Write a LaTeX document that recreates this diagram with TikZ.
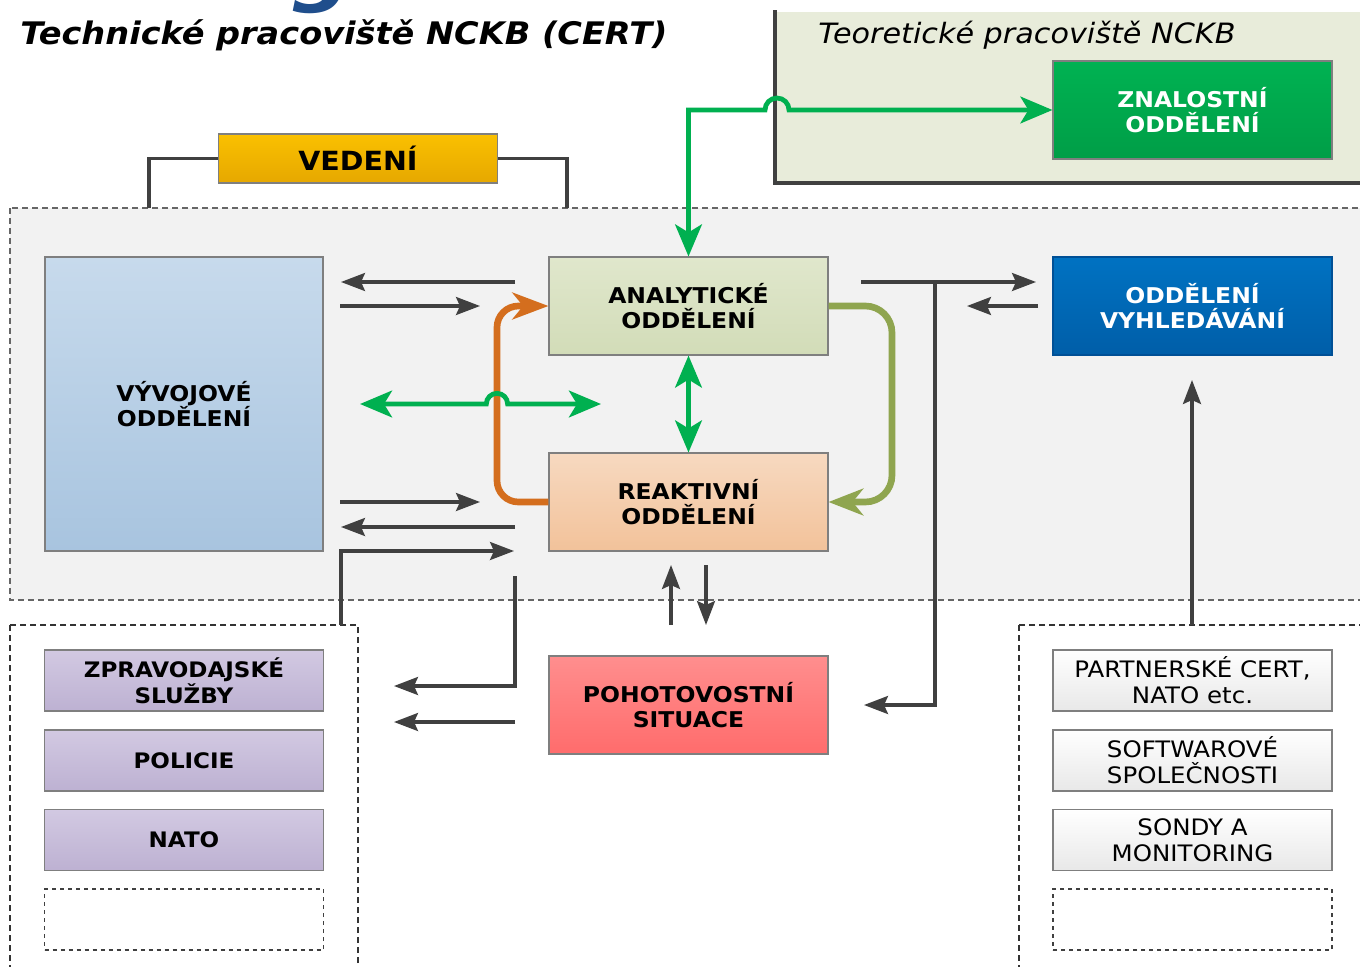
\documentclass[tikz,border=0pt]{standalone}
\usepackage{fontspec}
\setmainfont[FakeStretch=1.08]{DejaVu Sans}
\usetikzlibrary{arrows.meta,shadings}
\definecolor{arrowgrey}{HTML}{404040}
\definecolor{cgreen}{HTML}{00B050}
\definecolor{corange}{HTML}{D46E1E}
\definecolor{colive}{HTML}{8FA54F}
\definecolor{boxline}{HTML}{7F7F7F}
\definecolor{regionfill}{HTML}{F2F2F2}
\definecolor{teorfill}{HTML}{E8ECDA}
\definecolor{titleblue}{HTML}{1F4E8C}
\begin{document}
\begin{tikzpicture}[x=0.75pt,y=-0.75pt,
  box/.style={draw=boxline, line width=0.8pt, minimum width=209.25pt, minimum height=73.5pt,
    align=center, inner sep=0pt, font=\fontsize{16.3}{19}\selectfont\bfseries},
  smallbox/.style={box, minimum height=45.75pt, font=\fontsize{16}{19.5}\selectfont\bfseries},
  greybox/.style={smallbox, top color=white, bottom color=black!9, font=\fontsize{17}{19.5}\selectfont},
  purplebox/.style={smallbox, top color={rgb,255:red,210;green,201;blue,226}, bottom color={rgb,255:red,189;green,177;blue,210}},
  emptybox/.style={smallbox, draw=arrowgrey, dashed, fill=white},
  region/.style={draw=arrowgrey!80, line width=0.8pt, dash pattern=on 4.5pt off 3pt},
  garrow/.style={draw=arrowgrey, line width=2.3pt, -{Stealth[length=18pt,width=13.5pt,inset=3pt]}},
  gline/.style={draw=arrowgrey, line width=2.3pt},
  greenarrow/.style={draw=cgreen, line width=3.6pt, {Stealth[length=24pt,width=20pt,inset=6pt]}-{Stealth[length=24pt,width=20pt,inset=6pt]}},
]
\useasboundingbox (0,0) rectangle (1360,967);
\fill[white] (0,0) rectangle (1360,967);

% regions
\fill[teorfill] (775,12) rectangle (1365,183);
\draw[arrowgrey, line width=3pt] (775,10) -- (775,183) -- (1365,183);
\filldraw[region, fill=regionfill] (10,208) rectangle (1372,600);
\filldraw[region, draw=black!80, fill=white] (10,625) rectangle (358,980);
\filldraw[region, draw=black!80, fill=white] (1019,625) rectangle (1372,980);

% titles
\node[text=titleblue, anchor=base, inner sep=0pt, font=\fontsize{60}{60}\selectfont\bfseries\itshape] (gfrag) at (322,-3) {g};
\node[anchor=west, inner sep=0pt, font=\fontsize{23.3}{26}\selectfont\bfseries\itshape] (title) at (20,35) {Technické pracoviště NCKB (CERT)};
\node[anchor=west, inner sep=0pt, font=\fontsize{21}{24}\selectfont\itshape] (teortitle) at (818,35) {Teoretické pracoviště NCKB};

% main boxes
\node[box, top color={rgb,255:red,0;green,178;blue,82}, bottom color={rgb,255:red,0;green,158;blue,71}, text=white] (znal) at (1192.5,110) {ZNALOSTNÍ\\ODDĚLENÍ};
\node[box, minimum height=36.75pt, top color={rgb,255:red,250;green,192;blue,0}, bottom color={rgb,255:red,230;green,168;blue,0}, font=\fontsize{19.8}{22}\selectfont\bfseries] (vedeni) at (358,158.5) {VEDENÍ};
\node[box, minimum width=208.5pt, minimum height=220.5pt, top color={rgb,255:red,199;green,218;blue,236}, bottom color={rgb,255:red,168;green,196;blue,223}] (vyvoj) at (184,404) {VÝVOJOVÉ\\ODDĚLENÍ};
\node[box, top color={rgb,255:red,224;green,231;blue,204}, bottom color={rgb,255:red,210;green,220;blue,184}] (analyt) at (688.5,306) {ANALYTICKÉ\\ODDĚLENÍ};
\node[box, top color={rgb,255:red,247;green,217;blue,192}, bottom color={rgb,255:red,242;green,194;blue,154}] (reakt) at (688.5,502) {REAKTIVNÍ\\ODDĚLENÍ};
\node[box, draw={rgb,255:red,0;green,80;blue,150}, top color={rgb,255:red,0;green,114;blue,194}, bottom color={rgb,255:red,0;green,94;blue,168}, text=white] (vyhl) at (1192.5,306) {ODDĚLENÍ\\VYHLEDÁVÁNÍ};
\node[box, top color={rgb,255:red,255;green,142;blue,142}, bottom color={rgb,255:red,255;green,108;blue,108}] (pohot) at (688.5,705) {POHOTOVOSTNÍ\\SITUACE};

% left list
\node[purplebox] (zprav) at (184,680.5) {ZPRAVODAJSKÉ\\SLUŽBY};
\node[purplebox] (polic) at (184,760.5) {POLICIE};
\node[purplebox] (nato) at (184,840) {NATO};
\node[emptybox] (lempty) at (184,919.5) {};
% right list
\node[greybox] (partn) at (1192.5,680.5) {PARTNERSKÉ CERT,\\NATO etc.};
\node[greybox] (softw) at (1192.5,760.5) {SOFTWAROVÉ\\SPOLEČNOSTI};
\node[greybox] (sondy) at (1192.5,840) {SONDY A\\MONITORING};
\node[emptybox] (rempty) at (1192.5,919.5) {};

% VEDENI connectors
\coordinate (vl) at (149,208);
\coordinate (vr) at (567,208);
\draw[gline] (vedeni.west) -| (vl);
\draw[gline] (vedeni.east) -| (vr);

% grey arrows
\coordinate (a1s) at (515,282); \coordinate (a1e) at (341,282);
\coordinate (a2s) at (340,306); \coordinate (a2e) at (480,306);
\coordinate (a3s) at (340,502); \coordinate (a3e) at (480,502);
\coordinate (a4s) at (515,527); \coordinate (a4e) at (341,527);
\coordinate (a5s) at (341,625); \coordinate (a5e) at (514,551);
\coordinate (a6s) at (515,576); \coordinate (a6e) at (394,686);
\coordinate (a7s) at (515,722); \coordinate (a7e) at (394,722);
\coordinate (a8s) at (671,625); \coordinate (a8e) at (671,565);
\coordinate (a9s) at (706,565); \coordinate (a9e) at (706,625);
\coordinate (b1s) at (861,282); \coordinate (b1e) at (1036,282);
\coordinate (bj) at (935,282); \coordinate (b2e) at (864,705);
\coordinate (b3s) at (1038,306); \coordinate (b3e) at (967,306);
\coordinate (b4s) at (1192,625); \coordinate (b4e) at (1192,380);
\draw[garrow] (a1s) -- (a1e);
\draw[garrow] (a2s) -- (a2e);
\draw[garrow] (a3s) -- (a3e);
\draw[garrow] (a4s) -- (a4e);
\draw[garrow] (a5s) |- (a5e);
\draw[garrow] (a6s) |- (a6e);
\draw[garrow] (a7s) -- (a7e);
\draw[garrow] (a8s) -- (a8e);
\draw[garrow] (a9s) -- (a9e);
\draw[garrow] (b1s) -- (b1e);
\draw[garrow] (bj) |- (b2e);
\draw[garrow] (b3s) -- (b3e);
\draw[garrow] (b4s) -- (b4e);

% orange loop
\draw[corange, line width=5pt, rounded corners=16pt, -{Stealth[length=27pt,width=20pt,inset=8pt]}]
  (reakt.west) -- (497,502) -- (497,306) -- (analyt.west);
% olive loop
\draw[colive, line width=5pt, rounded corners=20pt, -{Stealth[length=26pt,width=20pt,inset=8pt]}]
  (analyt.east) -- (892,306) -- (892,502) -- (reakt.east);

% green arrows
\coordinate (gcorner) at (688.5,110);
\draw[greenarrow] (znal.west) -- (789,110) arc[start angle=0, end angle=180, radius=9pt] -- (gcorner) -- (analyt.north);
\draw[greenarrow] (analyt.south) -- (reakt.north);
\coordinate (gl) at (360,404);
\coordinate (gr) at (601,404);
\draw[greenarrow] (gl) -- (486.3,404) arc[start angle=180, end angle=0, radius=8pt] -- (gr);
\end{tikzpicture}
\end{document}
